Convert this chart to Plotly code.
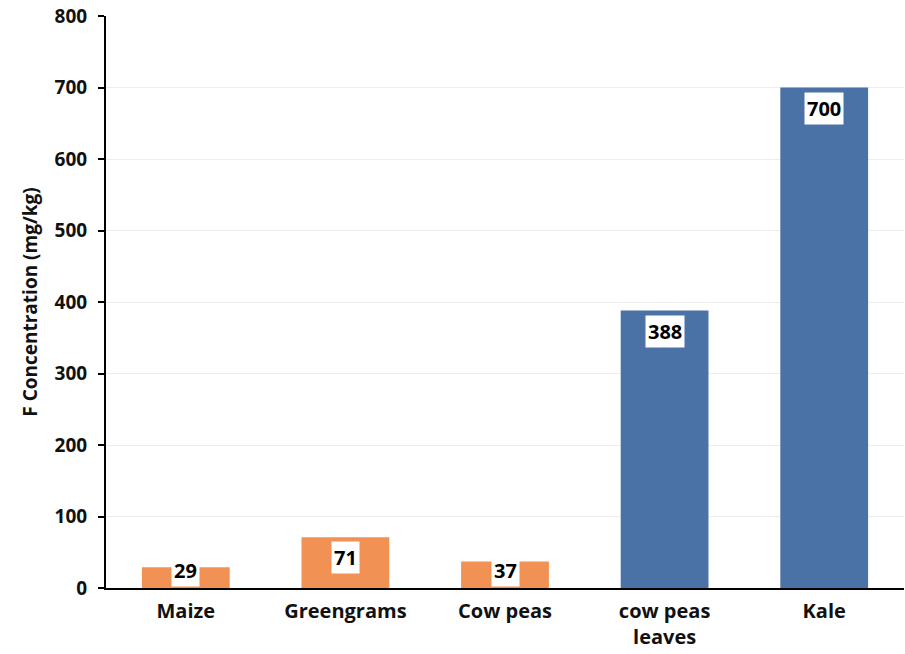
import plotly.graph_objects as go

# Fluoride concentration by crop (mg/kg)
categories = ["Maize", "Greengrams", "Cow peas", "cow peas<br>leaves", "Kale"]
values = [29, 71, 37, 388, 700]
groups = ["grain", "grain", "grain", "leaf", "leaf"]

y_ticks = [0, 100, 200, 300, 400, 500, 600, 700, 800]

group_colors = {"grain": "#F19153", "leaf": "#4A72A6"}
bar_colors = [group_colors[g] for g in groups]

FONT = "'Open Sans', Lato, Arial, sans-serif"

fig = go.Figure(
    go.Bar(
        x=categories,
        y=values,
        marker=dict(color=bar_colors, line=dict(width=0)),
        width=0.55,
        hoverinfo="x+y",
    )
)

# Value labels in white boxes just inside the bar top; short bars keep the
# box resting on the baseline instead of dropping below it.
plot_top, plot_bottom = 16, 588
px_per_unit = (plot_bottom - plot_top) / (y_ticks[-1] - y_ticks[0])
box_px = 37
annotations = []
for cat, v in zip(categories, values):
    if v * px_per_unit >= box_px:
        ann = dict(y=v, yanchor="top", yshift=-4)
    else:
        ann = dict(y=0, yanchor="bottom", yshift=1)
    annotations.append(
        dict(
            x=cat,
            xref="x",
            yref="y",
            text=f"<b>{v}</b>",
            showarrow=False,
            bgcolor="white",
            borderpad=2,
            font=dict(family=FONT, size=20, color="black"),
            **ann,
        )
    )

fig.update_layout(
    width=905,
    height=654,
    margin=dict(l=106, r=1, t=16, b=66),
    paper_bgcolor="white",
    plot_bgcolor="white",
    showlegend=False,
    bargap=0.45,
    annotations=annotations,
    font=dict(family=FONT, color="black"),
    xaxis=dict(
        showline=True,
        linecolor="black",
        linewidth=2,
        ticks="",
        showgrid=False,
        ticklabelstandoff=4,
        tickfont=dict(family=FONT, size=20, color="#111111", weight="bold"),
    ),
    yaxis=dict(
        range=[y_ticks[0], y_ticks[-1]],
        tickvals=y_ticks,
        showline=True,
        linecolor="black",
        linewidth=2,
        ticks="outside",
        ticklen=6,
        tickwidth=2,
        tickcolor="black",
        ticklabelstandoff=7,
        showgrid=True,
        gridcolor="#EDEDED",
        gridwidth=1,
        zeroline=False,
        tickfont=dict(family=FONT, size=19, color="#111111", weight="bold"),
        title=dict(
            text="<b>F Concentration (mg/kg)</b>",
            font=dict(family=FONT, size=19, color="#111111"),
            standoff=12,
        ),
    ),
)

fig.write_html("out.html")
